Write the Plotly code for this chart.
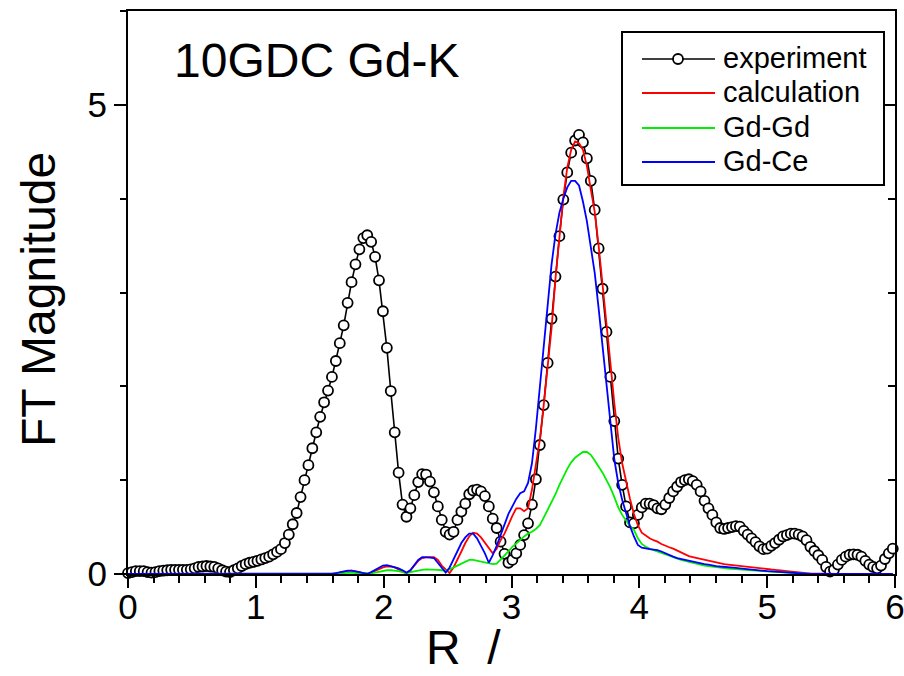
import plotly.graph_objects as go

# Fourier-transform radial grid (Athena default spacing)
R_STEP = 0.03068
N_POINTS = 196
r_grid = [round(k * R_STEP, 5) for k in range(N_POINTS)]

# |FT| of the measured Gd K-edge EXAFS, one value per grid point
ft_experiment = [
    0.01, 0.02, 0.03, 0.03, 0.03, 0.02, 0.015, 0.02, 0.03, 0.035,
    0.04, 0.045, 0.045, 0.045, 0.045, 0.045, 0.05, 0.06, 0.075, 0.08,
    0.085, 0.08, 0.075, 0.06, 0.04, 0.025, 0.02, 0.04, 0.06, 0.085,
    0.105, 0.12, 0.13, 0.14, 0.155, 0.17, 0.185, 0.21, 0.235, 0.265,
    0.33, 0.42, 0.53, 0.65, 0.82, 1.0, 1.16, 1.34, 1.51, 1.675,
    1.83, 1.955, 2.10, 2.27, 2.46, 2.65, 2.89, 3.11, 3.30, 3.46,
    3.58, 3.61, 3.54, 3.38, 3.13, 2.80, 2.41, 1.95, 1.51, 1.08,
    0.74, 0.61, 0.70, 0.84, 0.98, 1.065, 1.06, 0.985, 0.87, 0.72,
    0.576, 0.45, 0.42, 0.45, 0.576, 0.665, 0.75, 0.85, 0.89, 0.90,
    0.88, 0.83, 0.72, 0.59, 0.49, 0.345, 0.215, 0.12, 0.15, 0.22,
    0.31, 0.415, 0.54, 0.74, 1.01, 1.375, 1.80, 2.25, 2.72, 3.17,
    3.60, 3.99, 4.28, 4.49, 4.62, 4.68, 4.60, 4.43, 4.19, 3.88,
    3.47, 3.04, 2.58, 2.10, 1.63, 1.23, 0.95, 0.72, 0.55, 0.54,
    0.63, 0.71, 0.75, 0.75, 0.735, 0.70, 0.69, 0.74, 0.81, 0.88,
    0.93, 0.98, 1.0, 1.01, 0.99, 0.95, 0.88, 0.78, 0.70, 0.63,
    0.55, 0.49, 0.48, 0.49, 0.50, 0.51, 0.505, 0.46, 0.42, 0.38,
    0.34, 0.295, 0.265, 0.27, 0.30, 0.33, 0.365, 0.40, 0.415, 0.43,
    0.43, 0.42, 0.40, 0.36, 0.29, 0.245, 0.20, 0.15, 0.075, 0.025,
    0.045, 0.10, 0.15, 0.185, 0.205, 0.21, 0.205, 0.185, 0.14, 0.10,
    0.075, 0.06, 0.09, 0.16, 0.22, 0.27,
]

# Model curves are zero below this grid index; values below start there
CURVE_START = 52

ft_calculation = [
    0.0, 0.005, 0.015, 0.025, 0.03, 0.035, 0.03, 0.02, 0.01, 0.0,
    0.015, 0.035, 0.055, 0.07, 0.08, 0.08, 0.07, 0.05, 0.03, 0.005,
    0.04, 0.09, 0.14, 0.17, 0.18, 0.18, 0.18, 0.15, 0.09, 0.05,
    0.01, 0.07, 0.15, 0.24, 0.33, 0.40, 0.44, 0.43, 0.39, 0.33,
    0.27, 0.22, 0.27, 0.36, 0.43, 0.53, 0.62, 0.70, 0.70, 0.67,
    0.70, 0.90, 1.15, 1.43, 1.80, 2.20, 2.62, 3.15, 3.62, 4.02,
    4.33, 4.52, 4.61, 4.59, 4.52, 4.35, 4.10, 3.86, 3.50, 3.10,
    2.70, 2.25, 1.82, 1.45, 1.18, 0.98, 0.80, 0.64, 0.52, 0.44,
    0.41, 0.38, 0.36, 0.345, 0.32, 0.30, 0.285, 0.27, 0.25, 0.225,
    0.205, 0.19, 0.18, 0.17, 0.165, 0.155, 0.14, 0.13, 0.12, 0.114,
    0.105, 0.10, 0.095, 0.088, 0.08, 0.075, 0.07, 0.065, 0.062, 0.06,
    0.055, 0.05, 0.048, 0.045, 0.043, 0.035, 0.03, 0.025, 0.02, 0.012,
    0.01, 0.008, 0.006, 0.004, 0.003, 0.002, 0.0, 0.0, 0.0, 0.0,
    0.0, 0.0, 0.0, 0.0, 0.0, 0.0, 0.0, 0.0, 0.0, 0.0,
    0.0, 0.0, 0.0, 0.0,
]

ft_gd_gd = [
    0.0, 0.0, 0.005, 0.01, 0.015, 0.015, 0.01, 0.008, 0.005, 0.003,
    0.008, 0.015, 0.025, 0.035, 0.04, 0.04, 0.038, 0.03, 0.02, 0.01,
    0.02, 0.03, 0.04, 0.045, 0.05, 0.05, 0.05, 0.045, 0.04, 0.035,
    0.05, 0.07, 0.09, 0.11, 0.13, 0.15, 0.15, 0.14, 0.13, 0.12,
    0.11, 0.105, 0.11, 0.15, 0.19, 0.24, 0.29, 0.33, 0.37, 0.40,
    0.43, 0.45, 0.48, 0.52, 0.60, 0.68, 0.76, 0.85, 0.95, 1.04,
    1.12, 1.19, 1.24, 1.27, 1.30, 1.30, 1.27, 1.21, 1.15, 1.08,
    1.00, 0.92, 0.82, 0.71, 0.63, 0.57, 0.51, 0.47, 0.38, 0.32,
    0.29, 0.27, 0.255, 0.24, 0.22, 0.205, 0.19, 0.175, 0.165, 0.15,
    0.14, 0.13, 0.12, 0.105, 0.096, 0.09, 0.085, 0.078, 0.072, 0.067,
    0.062, 0.058, 0.054, 0.05, 0.046, 0.043, 0.04, 0.038, 0.036, 0.033,
    0.03, 0.027, 0.024, 0.02, 0.018, 0.015, 0.012, 0.01, 0.007, 0.005,
    0.003, 0.001, 0.0, 0.0, 0.0, 0.0, 0.0, 0.0, 0.0, 0.0,
    0.0, 0.0, 0.0, 0.0, 0.0, 0.0, 0.0, 0.0, 0.0, 0.0,
    0.0, 0.0, 0.0, 0.0,
]

ft_gd_ce = [
    0.0, 0.01, 0.02, 0.03, 0.035, 0.035, 0.03, 0.02, 0.01, 0.0,
    0.02, 0.045, 0.07, 0.09, 0.095, 0.085, 0.075, 0.06, 0.04, 0.015,
    0.04, 0.10, 0.15, 0.18, 0.18, 0.175, 0.17, 0.12, 0.07, 0.015,
    0.07, 0.16, 0.25, 0.33, 0.39, 0.43, 0.43, 0.38, 0.30, 0.22,
    0.12, 0.20, 0.30, 0.42, 0.53, 0.64, 0.72, 0.80, 0.86, 0.88,
    0.97, 1.18, 1.55, 1.98, 2.43, 2.88, 3.30, 3.62, 3.85, 4.00,
    4.12, 4.19, 4.19, 4.14, 3.97, 3.76, 3.49, 3.21, 2.83, 2.43,
    2.01, 1.59, 1.22, 0.97, 0.79, 0.65, 0.51, 0.40, 0.31, 0.28,
    0.27, 0.265, 0.26, 0.255, 0.24, 0.22, 0.20, 0.185, 0.17, 0.16,
    0.15, 0.14, 0.13, 0.12, 0.114, 0.105, 0.10, 0.09, 0.085, 0.08,
    0.078, 0.075, 0.07, 0.065, 0.06, 0.055, 0.05, 0.05, 0.045, 0.04,
    0.035, 0.03, 0.028, 0.025, 0.02, 0.015, 0.012, 0.01, 0.007, 0.005,
    0.003, 0.002, 0.0, 0.0, 0.0, 0.0, 0.0, 0.0, 0.0, 0.0,
    0.0, 0.0, 0.0, 0.0, 0.0, 0.0, 0.0, 0.0, 0.0, 0.0,
    0.0, 0.0, 0.0, 0.0,
]

series_names = ["experiment", "calculation", "Gd-Gd", "Gd-Ce"]
series_colors = ["#000000", "#ff0000", "#00ee00", "#0000ff"]
x_ticks = [0, 1, 2, 3, 4, 5, 6]
y_ticks = [0, 5]

FONT = "Liberation Sans, Arial, Helvetica, sans-serif"

# plot-area geometry in pixels (used for placing the text and legend box)
W, H = 904, 676
L, R_, T, B = 128, 9, 11, 102
PW, PH = W - L - R_, H - T - B


def px(xp):
    return (xp - L) / PW


def py(yp):
    return (H - B - yp) / PH


curve_r = [0.0] + r_grid[CURVE_START:]

fig = go.Figure()
fig.add_trace(go.Scatter(
    x=r_grid, y=ft_experiment, mode="lines+markers", name=series_names[0],
    line=dict(color="black", width=1.6),
    marker=dict(symbol="circle", size=10, color="white",
                line=dict(color="black", width=1.8)),
    cliponaxis=False,
))
for name, vals, col in zip(series_names[1:],
                           [ft_calculation, ft_gd_gd, ft_gd_ce],
                           series_colors[1:]):
    fig.add_trace(go.Scatter(
        x=curve_r, y=[0.0] + vals, mode="lines", name=name,
        line=dict(color=col, width=1.8),
    ))

# right-hand frame axis with inward ticks
fig.add_trace(go.Scatter(x=[], y=[], yaxis="y2", showlegend=False))

axis_font = dict(family=FONT, size=35, color="black")
fig.update_layout(
    width=W, height=H,
    margin=dict(l=L, r=R_, t=T, b=B, pad=0, autoexpand=False),
    paper_bgcolor="white", plot_bgcolor="white",
    showlegend=False,
    xaxis=dict(range=[0, 6], tickvals=x_ticks, ticktext=[str(v) for v in x_ticks],
               ticks="outside", ticklen=12, tickwidth=2, tickcolor="black",
               minor=dict(ticks="outside", ticklen=7, tickwidth=2, dtick=0.2,
                          tick0=0, tickcolor="black", showgrid=False),
               showline=True, linewidth=2, linecolor="black", mirror=True,
               showgrid=False, zeroline=False, tickfont=axis_font,
               automargin=False, ticklabelstandoff=-11,
               ticklabeloverflow="allow"),
    yaxis=dict(range=[0, 6], tickvals=y_ticks, ticktext=[str(v) for v in y_ticks],
               ticks="outside", ticklen=12, tickwidth=2, tickcolor="black",
               minor=dict(ticks="outside", ticklen=6, tickwidth=2, dtick=1,
                          tick0=0, tickcolor="black", showgrid=False),
               showline=True, linewidth=2, linecolor="black", mirror=True,
               showgrid=False, zeroline=False, tickfont=axis_font,
               automargin=False, ticklabeloverflow="allow"),
    yaxis2=dict(range=[0, 6], overlaying="y", side="right", tickvals=y_ticks,
                showticklabels=False, ticks="inside", ticklen=11, tickwidth=2,
                tickcolor="black",
                minor=dict(ticks="inside", ticklen=7, tickwidth=2, dtick=1,
                           tick0=0, tickcolor="black", showgrid=False),
                showline=True, linewidth=2, linecolor="black",
                showgrid=False, zeroline=False, automargin=False),
)

annotations = [
    dict(text="10GDC Gd-K", x=px(172), y=py(60), xanchor="left", yanchor="middle",
         font=dict(family=FONT, size=48, color="black")),
    dict(text="FT Magnitude", x=px(38), y=py(300), textangle=-90,
         xanchor="center", yanchor="middle",
         font=dict(family=FONT, size=48, color="black")),
    dict(text="R  /", x=px(424), y=py(676), xanchor="left", yanchor="bottom",
         font=dict(family=FONT, size=48, color="black")),
]

# legend box
shapes = [dict(type="rect", xref="paper", yref="paper",
               x0=px(622), x1=px(884), y0=py(185), y1=py(32),
               line=dict(color="black", width=2), fillcolor="white", layer="above")]
row_y = [59, 93, 128, 162]
for name, col, yy in zip(series_names, series_colors, row_y):
    shapes.append(dict(type="line", xref="paper", yref="paper",
                       x0=px(642), x1=px(715), y0=py(yy), y1=py(yy),
                       line=dict(color=col, width=1.8 if col != "#000000" else 1.6),
                       layer="above"))
    annotations.append(dict(text=name, x=px(721), y=py(yy - 1), xanchor="left",
                            yanchor="middle", showarrow=False,
                            font=dict(family=FONT, size=29, color="black")))
shapes.append(dict(type="circle", xref="paper", yref="paper",
                   xsizemode="pixel", ysizemode="pixel",
                   xanchor=px(678), yanchor=py(row_y[0]),
                   x0=-5, x1=5, y0=-5, y1=5,
                   line=dict(color="black", width=1.8), fillcolor="white",
                   layer="above"))

for a in annotations:
    a.setdefault("showarrow", False)
    a["xref"] = "paper"
    a["yref"] = "paper"

fig.update_layout(annotations=annotations, shapes=shapes)
fig.write_html("out.html")
